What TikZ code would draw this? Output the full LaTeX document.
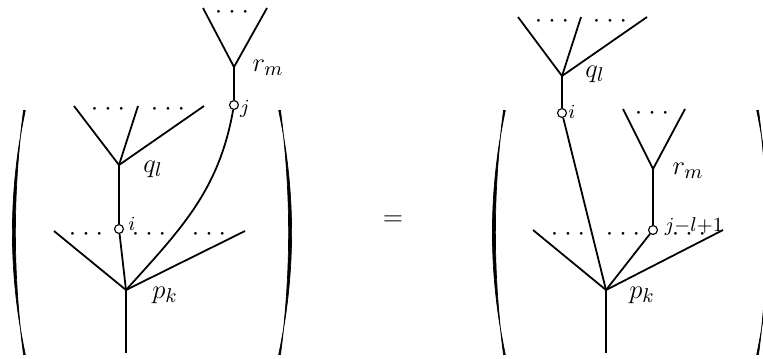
\documentclass[tikz,border=0pt]{standalone}
\newcommand{\tdots}{\cdotp\mkern1mu\cdotp\mkern1mu\cdotp}
\tikzset{
	paren/.pic={
		\filldraw[line width=0.3pt] (6.8,122) .. controls (-10.4,40) and (-10.4,-40) .. (6.8,-122)
			-- (5,-122) .. controls (-5.8,-40) and (-5.8,40) .. (5,122) -- cycle;
	}
}
\begin{document}
\begin{tikzpicture}[
			x=0.45pt, y=0.45pt,
			port/.style={circle, draw, fill=white, line width=0.5pt, inner sep=0pt, minimum size=4pt},
			lbl/.style={inner sep=0pt, font=\fontsize{12.5}{15}\selectfont},
			idx/.style={inner sep=0pt, font=\fontsize{9}{11}\selectfont},
			dts/.style={lbl, anchor=base, yshift=-3.125pt},
			thick
			]
			\useasboundingbox (0,0) rectangle (763,358);
			% left side
			\pic (lpa) at (18.5,125.5) {paren};
			\pic[xscale=-1] (lpb) at (285.5,125.5) {paren};
			\coordinate (pkL) at (126,68);
			\coordinate (rootL) at (126,5);
			\coordinate (pkLa) at (54,127);
			\coordinate (pkLb) at (245,127);
			\node[port] (iL) at (119,129) {};
			\coordinate (qlL) at (119,193);
			\coordinate (qlLa) at (74,252);
			\coordinate (qlLb) at (138,252);
			\coordinate (qlLc) at (204,252);
			\node[port] (jL) at (234,253) {};
			\coordinate (rmL) at (234,291);
			\coordinate (rmLa) at (203,350);
			\coordinate (rmLb) at (267,350);
			\draw (rootL) -- (pkL);
			\draw (pkL) -- (pkLa);
			\draw (pkL) -- (pkLb);
			\draw (pkL) -- (iL);
			\draw (iL) -- (qlL);
			\draw (qlL) -- (qlLa);
			\draw (qlL) -- (qlLb);
			\draw (qlL) -- (qlLc);
			\draw (pkL) to[out=48, in=-100] (jL);
			\draw (jL) -- (rmL);
			\draw (rmL) -- (rmLa);
			\draw (rmL) -- (rmLb);
			\node[dts] (dpL1) at (86,124) {$\tdots$};
			\node[dts] (dpL2) at (149,124) {$\tdots$};
			\node[dts] (dpL3) at (209,124) {$\tdots$};
			\node[dts] (dqL1) at (108,249) {$\tdots$};
			\node[dts] (dqL2) at (168,249) {$\tdots$};
			\node[dts] (drL) at (232,346) {$\tdots$};
			\node[lbl] (tpkL) at (165,63) {$p_k$};
			\node[lbl] (tqlL) at (153,189) {$q_l$};
			\node[lbl] (trmL) at (268,290) {$r_m$};
			\node[idx] (tiL) at (132,134) {$i$};
			\node[idx] (tjL) at (245,249) {$j$};
			% equals
			\node[lbl] (eq) at (393,137) {$=$};
			% right side
			\pic (rpa) at (498.5,125.5) {paren};
			\pic[xscale=-1] (rpb) at (763.5,125.5) {paren};
			\coordinate (pkR) at (606,68);
			\coordinate (rootR) at (606,5);
			\coordinate (pkRa) at (533,128);
			\coordinate (pkRb) at (723,128);
			\node[port] (jR) at (653,128) {};
			\coordinate (rmR) at (653,189);
			\coordinate (rmRa) at (623,249);
			\coordinate (rmRb) at (685,249);
			\node[port] (iR) at (562,245) {};
			\coordinate (qlR) at (562,282);
			\coordinate (qlRa) at (518,341);
			\coordinate (qlRb) at (581,341);
			\coordinate (qlRc) at (647,341);
			\draw (rootR) -- (pkR);
			\draw (pkR) -- (pkRa);
			\draw (pkR) -- (pkRb);
			\draw (pkR) -- (iR);
			\draw (pkR) -- (jR);
			\draw (jR) -- (rmR);
			\draw (rmR) -- (rmRa);
			\draw (rmR) -- (rmRb);
			\draw (iR) -- (qlR);
			\draw (qlR) -- (qlRa);
			\draw (qlR) -- (qlRb);
			\draw (qlR) -- (qlRc);
			\node[dts] (dpR1) at (568,124) {$\tdots$};
			\node[dts] (dpR2) at (623,124) {$\tdots$};
			\node[dts] (dpR3) at (689,124) {$\tdots$};
			\node[dts] (dqR1) at (552,337) {$\tdots$};
			\node[dts] (dqR2) at (610,337) {$\tdots$};
			\node[dts] (drR) at (652,245) {$\tdots$};
			\node[lbl] (tpkR) at (642,63) {$p_k$};
			\node[lbl] (tqlR) at (595,284) {$q_l$};
			\node[lbl] (trmR) at (688,187) {$r_m$};
			\node[idx] (tiR) at (572,246) {$i$};
			\node[idx] (tjR) at (694,132) {$j{-}l{+}1$};
		\end{tikzpicture}
\end{document}
